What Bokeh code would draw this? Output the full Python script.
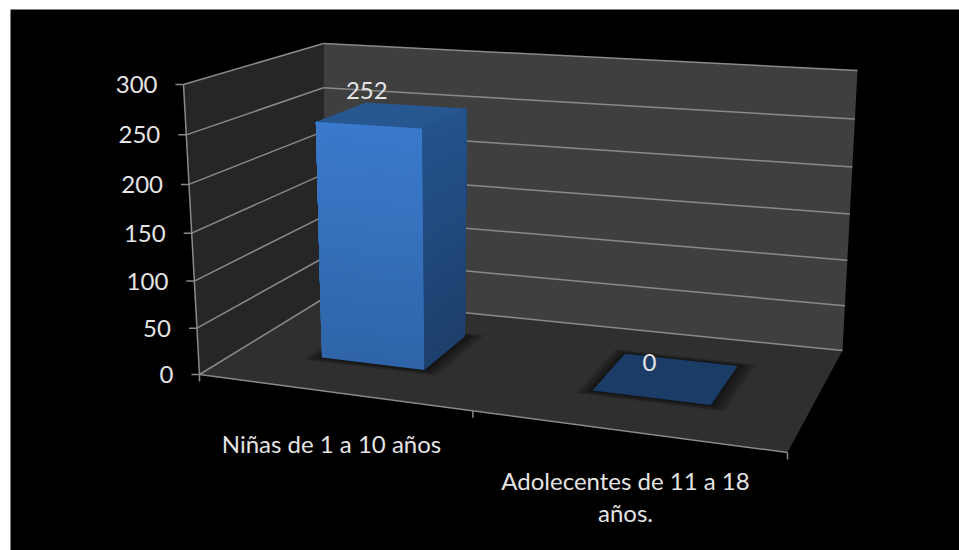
from bokeh.core.properties import value as fixed
from bokeh.embed import file_html
from bokeh.models import ColumnDataSource, Range1d
from bokeh.plotting import figure
from bokeh.resources import INLINE

# Chart data
categories = ["Niñas de 1 a 10 años", "Adolecentes de 11 a 18 años."]
category_lines = [["Niñas de 1 a 10 años"], ["Adolecentes de 11 a 18", "años."]]
series_values = [252, 0]
value_ticks = [0, 50, 100, 150, 200, 250, 300]

WIDTH, HEIGHT = 959, 550
VALUE_MAX = 300
FONT = "Lato"
FONT_SIZE = "24px"
TEXT_COLOR = "#e4e4e4"
GRID_COLOR = "#8a8a8a"

# Box corners on screen, keyed by (across, up, deep)
CORNERS = {
    (0, 0, 0): (199, 374), (0, 1, 0): (183, 84),
    (0, 0, 1): (323, 298), (0, 1, 1): (323, 43),
    (1, 0, 0): (787, 452), (1, 1, 0): (799, 118),
    (1, 0, 1): (842, 350), (1, 1, 1): (857, 70),
}
PERSPECTIVE = 0.05  # stretches the upper part of the value scale
BAR_EDGES = [(0.14, 0.322), (0.62, 0.83)]
BAR_DEPTH = (0.35, 0.75)
CATEGORY_SPLIT = 0.465
LABEL_NUDGE = [(-26, -25), (-17, -16)]
CATEGORY_LABEL_AT = [(331, 443), (625, 480)]
LINE_STEP = 32


def project(u, val, w):
    """Trilinear map from box coordinates to screen pixels."""
    v = val / VALUE_MAX
    v = v * (1 - PERSPECTIVE * (1 - v))
    x = y = 0.0
    for (a, b, c), (px, py) in CORNERS.items():
        k = (u if a else 1 - u) * (v if b else 1 - v) * (w if c else 1 - w)
        x += k * px
        y += k * py
    return x, y


def mix(c0, c1, t):
    a = [int(c0[i:i + 2], 16) for i in (1, 3, 5)]
    b = [int(c1[i:i + 2], 16) for i in (1, 3, 5)]
    return "#" + "".join(f"{round(p + (q - p) * t):02x}" for p, q in zip(a, b))


p = figure(width=WIDTH, height=HEIGHT, output_backend="svg", toolbar_location=None,
           x_range=Range1d(0, WIDTH), y_range=Range1d(HEIGHT, 0),
           min_border=0, outline_line_color=None, background_fill_color="white",
           border_fill_color="white", x_axis_type=None, y_axis_type=None)
p.grid.visible = False


def face(points, color, alpha=1.0):
    xs, ys = zip(*points)
    p.patch(list(xs), list(ys), fill_color=color, fill_alpha=alpha, line_color=None)


def line(a, b, color=GRID_COLOR, width=1.5):
    p.line([a[0], b[0]], [a[1], b[1]], line_color=color, line_width=width)


# Page backdrop
p.quad(left=[10], right=[WIDTH], top=[9], bottom=[HEIGHT], fill_color="black", line_color=None)

# Walls and floor
face([project(0, 0, 0), project(0, VALUE_MAX, 0), project(0, VALUE_MAX, 1), project(0, 0, 1)], "#262626")
face([project(0, 0, 1), project(0, VALUE_MAX, 1), project(1, VALUE_MAX, 1), project(1, 0, 1)], "#3f3f3f")
face([project(0, 0, 0), project(0, 0, 1), project(1, 0, 1), project(1, 0, 0)], "#2f2f2f")

# Gridlines running along the side wall and the back wall
for t in value_ticks:
    line(project(0, t, 0), project(0, t, 1))
    line(project(0, t, 1), project(1, t, 1))
    x, y = project(0, t, 0)
    line((x - 8, y), (x, y))

# Axis edges and category ticks
line(project(0, 0, 0), project(0, VALUE_MAX, 0))
line(project(0, 0, 0), project(1, 0, 0))
for u in (0, CATEGORY_SPLIT, 1):
    x, y = project(u, 0, 0)
    line((x, y), (x, y + 7))

# Soft contact shadows under each bar
SHADOW_STEPS = 12
for u0, u1 in BAR_EDGES:
    for s in range(SHADOW_STEPS, 0, -1):
        grow = 0.002 * s
        a0, a1 = u0 - grow, u1 + grow * 1.3
        b0, b1 = BAR_DEPTH[0] - grow * 2, BAR_DEPTH[1] + grow * 1.5
        face([project(a0, 0, b0), project(a1, 0, b0), project(a1, 0, b1), project(a0, 0, b1)],
             "#000000", 0.05)

# Bars: shaded front and side built from overlapping bands, then the cap
BANDS = 40
for (u0, u1), val in zip(BAR_EDGES, series_values):
    w0, w1 = BAR_DEPTH
    for i in range(BANDS if val else 0):
        lo = val * i / BANDS
        t = (i + 0.5) / BANDS
        face([project(u0, lo, w0), project(u1, lo, w0), project(u1, val, w0), project(u0, val, w0)],
             mix("#2f65a8", "#3a79cb", t))
        face([project(u1, lo, w0), project(u1, lo, w1), project(u1, val, w1), project(u1, val, w0)],
             mix("#1d3f6c", "#24528b", t))
    face([project(u0, val, w0), project(u1, val, w0), project(u1, val, w1), project(u0, val, w1)],
         mix("#1c3c68", "#295c98", val / VALUE_MAX))

# Value-axis labels
tick_pts = [project(0, t, 0) for t in value_ticks]
p.text(x=[q[0] - 26 for q in tick_pts], y=[q[1] for q in tick_pts],
       text=[str(t) for t in value_ticks], text_font=fixed(FONT), text_font_size=FONT_SIZE,
       text_color=TEXT_COLOR, text_align="right", text_baseline="middle")

# Value labels above the bars
anchors = [project((e[0] + e[1]) / 2, v, 0.55) for e, v in zip(BAR_EDGES, series_values)]
bar_label = ColumnDataSource(dict(
    x=[a[0] + n[0] for a, n in zip(anchors, LABEL_NUDGE)],
    y=[a[1] + n[1] for a, n in zip(anchors, LABEL_NUDGE)],
    text=[str(v) for v in series_values]))
p.text(x="x", y="y", text="text", source=bar_label, text_font=fixed(FONT), text_font_size=FONT_SIZE,
       text_color=TEXT_COLOR, text_align="center", text_baseline="middle")

# Category labels
for lines, (cx, cy) in zip(category_lines, CATEGORY_LABEL_AT):
    p.text(x=[cx] * len(lines), y=[cy + i * LINE_STEP for i in range(len(lines))], text=lines,
           text_font=fixed(FONT), text_font_size=FONT_SIZE, text_color=TEXT_COLOR,
           text_align="center", text_baseline="middle")

open("out.html", "w").write(file_html(p, INLINE))
